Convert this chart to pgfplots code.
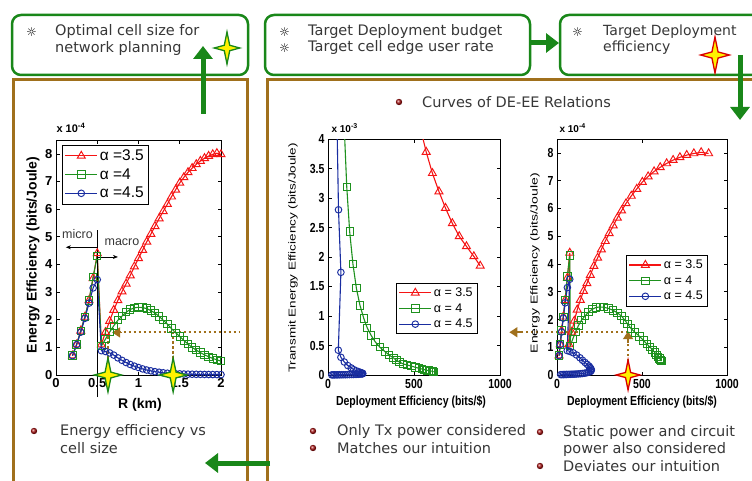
\documentclass[border=0pt]{standalone}
\usepackage{fontspec}
\setmainfont{DejaVu Sans}
\newfontfamily\arial{Liberation Sans}
\usepackage{pgfplots}
\pgfplotsset{compat=1.18}
\usetikzlibrary{arrows.meta}

\definecolor{slgreen}{RGB}{25,135,25}
\definecolor{brn}{RGB}{160,112,28}
\definecolor{pred}{RGB}{245,20,20}
\definecolor{pgreen}{RGB}{30,145,30}
\definecolor{pblue}{RGB}{25,45,160}
\definecolor{txt}{RGB}{55,55,55}
\definecolor{bul}{RGB}{170,20,20}

\pgfdeclareplotmark{star4}{%
  \pgfpathmoveto{\pgfqpoint{0pt}{\pgfplotmarksize}}%
  \pgfpathlineto{\pgfqpoint{0.17\pgfplotmarksize}{0.17\pgfplotmarksize}}%
  \pgfpathlineto{\pgfqpoint{0.8\pgfplotmarksize}{0pt}}%
  \pgfpathlineto{\pgfqpoint{0.17\pgfplotmarksize}{-0.17\pgfplotmarksize}}%
  \pgfpathlineto{\pgfqpoint{0pt}{-\pgfplotmarksize}}%
  \pgfpathlineto{\pgfqpoint{-0.17\pgfplotmarksize}{-0.17\pgfplotmarksize}}%
  \pgfpathlineto{\pgfqpoint{-0.8\pgfplotmarksize}{0pt}}%
  \pgfpathlineto{\pgfqpoint{-0.17\pgfplotmarksize}{0.17\pgfplotmarksize}}%
  \pgfpathclose
  \pgfusepathqfillstroke
}

\newcommand{\tstar}[4]{\filldraw[fill=yellow, draw=#4, line width=1.3pt] (#1,#2+#3) -- (#1+0.17*#3,#2+0.17*#3) -- (#1+0.8*#3,#2) -- (#1+0.17*#3,#2-0.17*#3) -- (#1,#2-#3) -- (#1-0.17*#3,#2-0.17*#3) -- (#1-0.8*#3,#2) -- (#1-0.17*#3,#2+0.17*#3) -- cycle;}

\pgfplotsset{
  matstyle/.style={
    scale only axis, anchor=south west,
    axis line style={line width=0.6pt},
    every tick/.style={black, line width=0.6pt},
    major tick length=3.5pt,
    /pgf/number format/assume math mode=true,
    /pgf/number format/1000 sep={},
    scaled ticks=false,
    legend cell align=left,
    legend style={draw=black, line width=0.6pt, fill=white, inner sep=2.5pt, row sep=2.5pt},
    legend image code/.code={\draw[##1, mark repeat=2, mark phase=2] plot coordinates {(0pt,0pt) (16pt,0pt) (32pt,0pt)};},
  },
  redp/.style={color=pred, line width=1.1pt, mark=triangle, mark size=4.6pt, mark options={solid, line width=0.95pt}},
  greenp/.style={color=pgreen, line width=1.1pt, mark=square, mark size=3.7pt, mark options={solid, line width=0.95pt}},
  bluep/.style={color=pblue, line width=1.1pt, mark=o, mark size=3.3pt, mark options={solid, line width=0.95pt}},
}

\begin{document}
\begin{tikzpicture}[x=1pt,y=1pt]
\useasboundingbox (0,0) rectangle (752,480);
\clip (0,0) rectangle (752,480);
\fill[white] (0,0) rectangle (752,480);

% frames
\draw[slgreen, line width=2.5pt, rounded corners=9pt] (12,405) rectangle (248,465);
\draw[slgreen, line width=2.5pt, rounded corners=9pt] (265,405) rectangle (530,465);
\draw[slgreen, line width=2.5pt, rounded corners=9pt] (560,405) rectangle (775,465);
\draw[brn, line width=3pt] (13,-10) rectangle (247,400);
\draw[brn, line width=3pt] (267,-10) rectangle (775,400);

% ---------------- left plot
\begin{axis}[matstyle, at={(56pt,105pt)}, width=165pt, height=235pt,
  xmin=0, xmax=2, ymin=0, ymax=8.5, clip=false,
  xtick={0,0.5,1,1.5,2}, ytick={0,1,2,3,4,5,6,7,8},
  ticklabel style={font=\arial\bfseries\fontsize{13}{13}\selectfont},
  legend style={at={(0.036,0.979)}, anchor=north west, font=\arial\fontsize{15.5}{15.5}\selectfont},
]
\addplot[redp] coordinates {
(0.20,0.70) (0.25,1.10) (0.30,1.60) (0.35,2.10) (0.40,2.70) (0.45,3.50) (0.50,4.40)
(0.55,1.10) (0.60,1.55) (0.65,1.95) (0.70,2.35) (0.75,2.70) (0.80,3.02) (0.85,3.30)
(0.90,3.60) (0.95,3.92) (1.00,4.22) (1.05,4.52) (1.10,4.82) (1.15,5.10) (1.20,5.38)
(1.25,5.66) (1.30,5.92) (1.35,6.18) (1.40,6.45) (1.45,6.70) (1.50,6.95) (1.55,7.15)
(1.60,7.33) (1.65,7.48) (1.70,7.62) (1.75,7.74) (1.80,7.84) (1.85,7.92) (1.90,7.98)
(1.95,8.02) (2.00,7.98)};
\addlegendentry{α =3.5}
\addplot[greenp] coordinates {
(0.20,0.70) (0.25,1.10) (0.30,1.60) (0.35,2.10) (0.40,2.70) (0.45,3.55) (0.50,4.30)
(0.55,1.05) (0.60,1.30) (0.65,1.55) (0.70,1.78) (0.75,1.98) (0.80,2.13) (0.85,2.27)
(0.90,2.37) (0.95,2.43) (1.00,2.45) (1.05,2.44) (1.10,2.40) (1.15,2.33) (1.20,2.24)
(1.25,2.12) (1.30,1.98) (1.35,1.84) (1.40,1.68) (1.45,1.53) (1.50,1.39) (1.55,1.25)
(1.60,1.12) (1.65,1.00) (1.70,0.90) (1.75,0.81) (1.80,0.73) (1.85,0.66) (1.90,0.60)
(1.95,0.55) (2.00,0.50)};
\addlegendentry{α =4}
\addplot[bluep] coordinates {
(0.20,0.70) (0.25,1.10) (0.30,1.55) (0.35,2.05) (0.40,2.60) (0.45,3.15) (0.50,3.45)
(0.55,0.88) (0.60,0.85) (0.65,0.80) (0.70,0.72) (0.75,0.62) (0.80,0.53) (0.85,0.45)
(0.90,0.38) (0.95,0.32) (1.00,0.27) (1.05,0.22) (1.10,0.18) (1.15,0.15) (1.20,0.12)
(1.25,0.10) (1.30,0.08) (1.35,0.065) (1.40,0.055) (1.45,0.045) (1.50,0.04) (1.55,0.035)
(1.60,0.03) (1.65,0.028) (1.70,0.025) (1.75,0.022) (1.80,0.02) (1.85,0.018) (1.90,0.016)
(1.95,0.015) (2.00,0.014)};
\addlegendentry{α =4.5}
% annotations
\draw[black, line width=0.8pt] (axis cs:0.5,-0.8) -- (axis cs:0.5,5.25);
\draw[black, line width=0.6pt, -{Stealth[length=5pt,width=4pt]}] (axis cs:0.5,4.62) -- (axis cs:0.12,4.62);
\draw[black, line width=0.6pt, -{Stealth[length=5pt,width=4pt]}] (axis cs:0.5,4.27) -- (axis cs:0.75,4.27);
\node[font=\arial\fontsize{12.5}{12.5}\selectfont, text=txt] at (axis cs:0.26,5.09) {micro};
\node[font=\arial\fontsize{12.5}{12.5}\selectfont, text=txt] at (axis cs:0.80,4.81) {macro};
\draw[brn, line width=2pt, dash pattern=on 2.5pt off 2.5pt] (axis cs:0.76,1.54) -- (axis cs:2.23,1.54);
\draw[brn, line width=2pt, dash pattern=on 2.5pt off 2.5pt] (axis cs:0.63,0.4) -- (axis cs:0.63,1.45);
\draw[brn, line width=2pt, dash pattern=on 2.5pt off 2.5pt] (axis cs:1.42,0.4) -- (axis cs:1.42,1.54);
\draw[brn, line width=1.5pt, -{Triangle[length=8pt,width=10pt]}] (axis cs:0.80,1.54) -- (axis cs:0.68,1.54);
\addplot[only marks, mark=star4, mark size=17pt, mark options={fill=yellow, draw=slgreen, line width=1.3pt}] coordinates {(0.63,0) (1.42,0)};
\end{axis}

% ---------------- middle plot
\begin{axis}[matstyle, at={(328pt,105pt)}, width=172pt, height=236pt,
  xmin=0, xmax=1000, ymin=0, ymax=4,
  xtick={0,500,1000}, ytick={0,0.5,1,1.5,2,2.5,3,3.5,4},
  ticklabel style={font=\arial\bfseries\fontsize{10.5}{10.5}\selectfont, yscale=1.25},
  legend style={at={(0.395,0.39)}, anchor=north west, font=\arial\fontsize{12.5}{12.5}\selectfont, row sep=1.5pt},
]
\addplot[redp] coordinates {
(536,4.20) (571,3.78) (607,3.42) (645,3.11) (683,2.83) (723,2.57) (763,2.35) (805,2.18) (848,2.01) (885,1.85)};
\addlegendentry{α = 3.5}
\addplot[greenp] coordinates {
(93,4.30) (109,3.19) (126,2.43) (145,1.88) (165,1.47) (186,1.18) (208,0.96) (228,0.80)
(251,0.67) (275,0.56) (302,0.47) (330,0.40) (355,0.34) (380,0.29) (398,0.25) (415,0.22)
(435,0.19) (460,0.17) (486,0.15) (508,0.13) (528,0.115) (548,0.10) (562,0.09) (575,0.08)
(586,0.075) (595,0.07) (603,0.065) (609,0.06) (614,0.055)};
\addlegendentry{α = 4}
\addplot[bluep] coordinates {
(48,5.0) (61,2.80) (75,1.74) (60,0.42) (75,0.30) (95,0.22) (115,0.16) (135,0.12) (150,0.09)
(165,0.07) (178,0.055) (188,0.045) (195,0.035) (200,0.03) (202,0.025) (200,0.02) (195,0.018)
(185,0.015) (175,0.012) (163,0.01) (150,0.009) (138,0.008) (125,0.007) (112,0.006) (100,0.005)
(88,0.005) (77,0.004) (66,0.004) (56,0.003) (47,0.003) (38,0.003) (30,0.002) (22,0.002)};
\addlegendentry{α = 4.5}
\end{axis}

% ---------------- right plot
\begin{axis}[matstyle, at={(557pt,105pt)}, width=170pt, height=236pt,
  xmin=0, xmax=1000, ymin=0, ymax=8.5, clip=false,
  xtick={0,500,1000}, ytick={0,1,2,3,4,5,6,7,8},
  ticklabel style={font=\arial\bfseries\fontsize{10.5}{10.5}\selectfont, yscale=1.25},
  legend style={at={(0.406,0.508)}, anchor=north west, font=\arial\fontsize{12.5}{12.5}\selectfont, row sep=1.5pt},
]
\addplot[redp] coordinates {
(12,0.70) (19,1.10) (27,1.60) (37,2.10) (48,2.70) (61,3.50) (75,4.40)
(70,1.10) (86,1.55) (102,1.95) (119,2.35) (137,2.70) (156,3.02) (176,3.30) (196,3.60)
(217,3.92) (239,4.22) (261,4.52) (284,4.82) (307,5.10) (331,5.38) (355,5.66) (380,5.92)
(406,6.18) (437,6.45) (469,6.70) (502,6.95) (536,7.15) (571,7.33) (607,7.48) (645,7.62)
(683,7.74) (723,7.84) (763,7.92) (805,7.98) (848,8.02) (892,7.98)};
\addlegendentry{α = 3.5}
\addplot[greenp] coordinates {
(12,0.70) (19,1.10) (27,1.60) (37,2.10) (48,2.70) (61,3.55) (75,4.30)
(78,1.05) (93,1.30) (109,1.55) (126,1.78) (145,1.98) (165,2.13) (186,2.27) (208,2.37)
(228,2.43) (251,2.45) (275,2.44) (302,2.40) (330,2.33) (355,2.24) (380,2.12) (398,1.98)
(415,1.84) (435,1.68) (460,1.53) (486,1.39) (508,1.25) (528,1.12) (548,1.00) (562,0.90)
(575,0.81) (586,0.73) (595,0.66) (603,0.60) (609,0.55) (614,0.50)};
\addlegendentry{α = 4}
\addplot[bluep] coordinates {
(12,0.70) (19,1.10) (27,1.55) (37,2.05) (48,2.60) (61,3.15) (75,3.45)
(60,0.88) (75,0.85) (95,0.80) (115,0.72) (135,0.62) (150,0.53) (165,0.45) (178,0.38)
(188,0.32) (195,0.27) (200,0.22) (202,0.18) (200,0.15) (195,0.12) (185,0.10) (175,0.08)
(163,0.065) (150,0.055) (138,0.045) (125,0.04) (112,0.035) (100,0.03) (88,0.028) (77,0.025)
(66,0.022) (56,0.02) (47,0.018) (38,0.016) (30,0.015) (22,0.014)};
\addlegendentry{α = 4.5}
\draw[brn, line width=2pt, dash pattern=on 2.5pt off 2.5pt] (axis cs:418,1.54) -- (axis cs:-205,1.54);
\draw[brn, line width=1.5pt, -{Triangle[length=8pt,width=10pt]}] (axis cs:-205,1.54) -- (axis cs:-280,1.54);
\draw[brn, line width=2pt, dash pattern=on 2.5pt off 2.5pt] (axis cs:418,0.5) -- (axis cs:418,1.2);
\draw[brn, line width=1.5pt, -{Triangle[length=8pt,width=10pt]}] (axis cs:418,1.15) -- (axis cs:418,1.58);
\addplot[only marks, mark=star4, mark size=15pt, mark options={fill=yellow, draw=red!85!black, line width=1.3pt}] coordinates {(418,0)};
\end{axis}

% ---------------- axis labels
\node[rotate=90, font=\arial\bfseries\fontsize{14}{14}\selectfont] at (33,225) {Energy Efficiency (bits/Joule)};
\node[font=\arial\bfseries\fontsize{14}{14}\selectfont] at (140,75) {R (km)};
\node[anchor=west, font=\arial\bfseries\fontsize{11}{11}\selectfont] at (53,352) {x 10\textsuperscript{-4}};

\node[rotate=90, xscale=1.35, font=\arial\fontsize{10}{10}\selectfont] at (293,222) {Transmit Energy Efficiency (bits/Joule)};
\node[yscale=1.25, font=\arial\bfseries\fontsize{10.5}{10.5}\selectfont] at (411,78) {Deployment Efficiency (bits/\$)};
\node[anchor=west, font=\arial\bfseries\fontsize{10}{10}\selectfont] at (328,352) {x 10\textsuperscript{-3}};

\node[rotate=90, xscale=1.4, font=\arial\fontsize{10}{10}\selectfont] at (535,217) {Energy Efficiency (bits/Joule)};
\node[yscale=1.25, font=\arial\bfseries\fontsize{10.5}{10.5}\selectfont] at (642,78) {Deployment Efficiency (bits/\$)};
\node[anchor=west, font=\arial\bfseries\fontsize{10}{10}\selectfont] at (556,352) {x 10\textsuperscript{-4}};

% ---------------- slide texts
\begin{scope}[every node/.style={text=txt, font=\fontsize{14.5}{14.5}\selectfont, anchor=west, inner sep=0pt}]
\node[text=black, font=\fontsize{12}{12}\selectfont] at (26,448) {☼};
\node at (55,448) {Optimal cell size for};
\node at (55,431) {network planning};
\node[text=black, font=\fontsize{12}{12}\selectfont] at (279,448) {☼};
\node[text=black, font=\fontsize{12}{12}\selectfont] at (279,432) {☼};
\node at (308,448) {Target Deployment budget};
\node at (308,432) {Target cell edge user rate};
\node[text=black, font=\fontsize{12}{12}\selectfont] at (572,448) {☼};
\node[font=\fontsize{14}{14}\selectfont] at (603,448) {Target Deployment};
\node[font=\fontsize{14}{14}\selectfont] at (603,432) {efficiency};
\node at (422,378) {Curves of DE-EE Relations};
\node at (60,49) {Energy efficiency vs};
\node at (60,32) {cell size};
\node at (337,49) {Only Tx power considered};
\node at (337,32) {Matches our intuition};
\node at (563,48) {Static power and circuit};
\node at (563,31) {power also considered};
\node at (563,14) {Deviates our intuition};
\end{scope}
\foreach \p in {(399,378),(34,49),(313,49),(313,32),(540,48),(540,14)}
  \shade[ball color=bul] \p circle (3.2pt);

% ---------------- stars in boxes
\tstar{227}{432}{16}{slgreen}
\tstar{715}{425}{18}{red!85!black}

% ---------------- green arrows
\draw[slgreen, line width=5pt, -{Triangle[length=13pt,width=19pt]}] (203,366) -- (203,434);
\draw[slgreen, line width=5pt, -{Triangle[length=13pt,width=19pt]}] (530,437) -- (559,437);
\draw[slgreen, line width=5pt, -{Triangle[length=13pt,width=19pt]}] (740,425) -- (740,360);
\draw[slgreen, line width=5pt, -{Triangle[length=13pt,width=19pt]}] (270,17) -- (205,17);
\end{tikzpicture}
\end{document}
